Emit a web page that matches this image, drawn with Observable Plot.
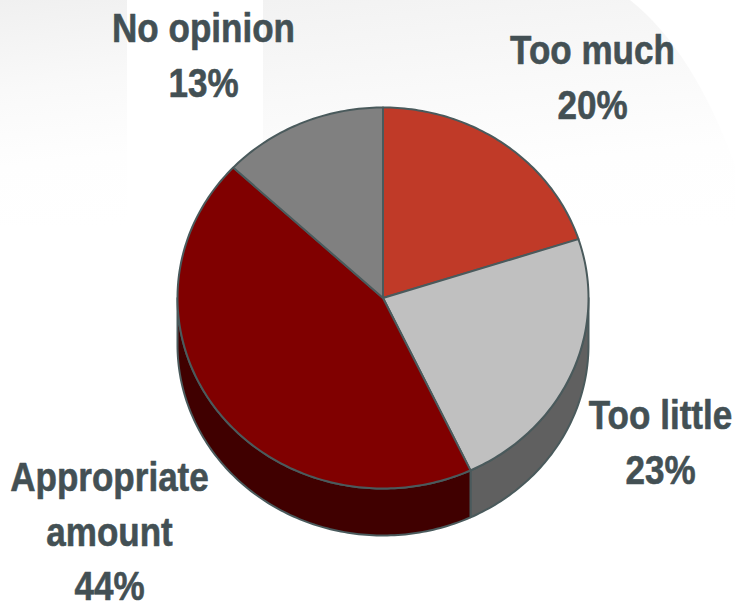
<!DOCTYPE html>
<html>
<head>
<meta charset="utf-8">
<script src="https://cdn.jsdelivr.net/npm/d3@7"></script>
<script src="https://cdn.jsdelivr.net/npm/@observablehq/plot@0.6"></script>
<style>
html,body{margin:0;padding:0;background:#fff;width:735px;height:601px;overflow:hidden}
#bg1,#bg2{position:absolute;top:0}
#bg1{left:0;width:127px;height:225px;background:linear-gradient(174deg,#f0f0f0 0%,#f9f9f9 38%,#fefefe 70%,#ffffff 100%)}
#bg2{left:263px;width:472px;height:225px;background:linear-gradient(174deg,#f2f2f2 0%,#f9f9f9 38%,#fefefe 70%,#ffffff 100%);
clip-path:path("M0 0 L367 0 Q430 50 472 165 L472 225 L0 225 Z")}
#chart{position:absolute;left:0;top:0}
</style>
</head>
<body>
<div id="bg1"></div><div id="bg2"></div>
<div id="chart"></div>
<script>
const categories = ["Too much", "Too little", "Appropriate amount", "No opinion"];
const shares = [20, 23, 44, 13];
const topColors = ["#c03a28", "#c0c0c0", "#800000", "#808080"];
const sideColors = ["#602014", "#606060", "#400000", "#404040"];
const labelLines = ["Too much\n20%", "Too little\n23%", "Appropriate\namount\n44%", "No opinion\n13%"];
const labelX = [592, 660, 109, 203];
const labelY = [73.5, 438.5, 528, 51.5];

const W = 735, H = 601, cx = 382.5, cy = 297.5, rx = 205.5, ry = 190.5, depth = 47 / ry;
const arcs = d3.pie().sort(null).value(d => d).startAngle(0).endAngle(2 * Math.PI)(shares);
const deg = Math.PI / 180;
const steps = (a, b) => d3.range(Math.ceil((b - a) / deg) + 1).map(i => Math.min(a + i * deg, b));

const topRows = [], sideRows = [];
arcs.forEach((arc, i) => {
  const key = categories[i];
  topRows.push({x: 0, y: 0, key});
  for (const t of steps(arc.startAngle, arc.endAngle)) topRows.push({x: Math.sin(t), y: Math.cos(t), key});
  topRows.push({x: 0, y: 0, key});
  const a = Math.max(arc.startAngle, Math.PI / 2), b = Math.min(arc.endAngle, 3 * Math.PI / 2);
  if (b > a) {
    const s = steps(a, b);
    for (const t of s) sideRows.push({x: Math.sin(t), y: Math.cos(t), key});
    for (const t of s.slice().reverse()) sideRows.push({x: Math.sin(t), y: Math.cos(t) - depth, key});
    sideRows.push({x: Math.sin(s[0]), y: Math.cos(s[0]), key});
  }
});
const labels = categories.map((key, i) => ({
  text: labelLines[i], x: (labelX[i] - cx) / rx, y: (cy - labelY[i]) / ry
}));

const edge = "#4a5a5c";
const plot = Plot.plot({
  width: W, height: H, margin: 0,
  style: {background: "transparent"},
  x: {domain: [-cx / rx, (W - cx) / rx], range: [0, W], axis: null},
  y: {domain: [(cy - H) / ry, cy / ry], range: [H, 0], axis: null},
  color: {domain: categories, range: topColors},
  marks: [
    ...categories.map((key, i) => Plot.line(sideRows.filter(d => d.key === key), {
      x: "x", y: "y", fill: sideColors[i], stroke: edge, strokeWidth: 2, curve: "linear"
    })),
    Plot.line(topRows, {x: "x", y: "y", z: "key", fill: "key", stroke: edge, strokeWidth: 2, curve: "linear", strokeLinejoin: "round"}),
    Plot.text(labels, {
      x: "x", y: "y", text: "text", fontSize: 41, fontWeight: 700, lineHeight: 1.33,
      fontFamily: "Liberation Sans", fill: "#435054", stroke: "#435054", strokeWidth: 0.6,
      textAnchor: "middle", lineAnchor: "middle"
    })
  ]
});
plot.querySelectorAll("text").forEach(t => {
  const tr = t.getAttribute("transform") || "";
  t.setAttribute("transform", tr + " scale(0.855,1)");
});
document.getElementById("chart").append(plot);
</script>
</body>
</html>
